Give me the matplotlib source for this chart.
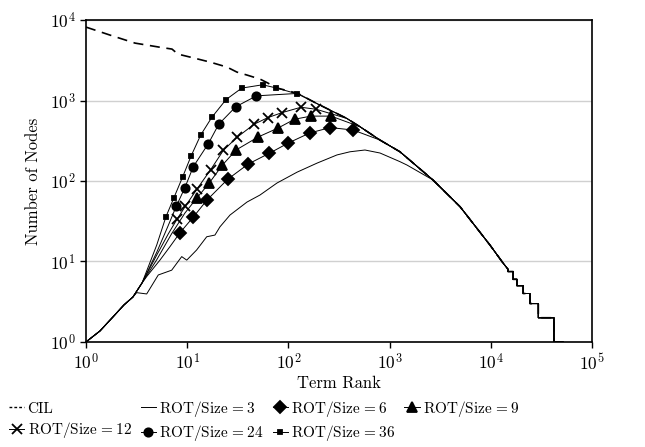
import numpy as np
import matplotlib
matplotlib.use("Agg")
import matplotlib.pyplot as plt

plt.rcParams['font.family'] = 'serif'
plt.rcParams['font.serif'] = ['cmr10']
plt.rcParams['mathtext.fontset'] = 'cm'
plt.rcParams['axes.formatter.use_mathtext'] = True
plt.rcParams['font.size'] = 10

# shared start (all ROT curves) and shared tail (everything merges here)
start_rank = [1, 1.375, 1.85, 2.37, 2.91]
start_nodes = [1, 1.37, 2.05, 2.88, 3.62]

env_rank = [124, 190, 377, 510, 804, 1267, 2685, 4970, 9820, 13200, 14800, 14800,
            16600, 16600, 18100, 18100, 20900, 20900, 24400, 24400, 29500, 29500,
            42100, 42100, 51700]
env_nodes = [1228, 922, 601, 473, 323, 231, 103, 48, 16, 9.6, 8, 7.5,
             7.5, 6, 6, 5, 5, 4, 4, 3, 3, 2,
             2, 1, 1]

# CIL (dashed)
cil_rank = [1, 1.73, 3.05, 5.27, 7.08, 8.1, 10.7, 16.8, 24.7, 31.0, 39.0, 52.4, 62.8, 74.6]
cil_nodes = [8190, 6510, 5180, 4620, 4365, 3780, 3470, 3010, 2610, 2260, 2075, 1850, 1650, 1450]

# ROT/Size=3 (no markers)
r3_rank = [3.17, 3.98, 5.18, 7.03, 8.83, 9.9, 12.4, 15.6, 18.8, 21.1, 26.5, 39.0, 52.4,
           77.1, 122, 192, 302, 406, 571, 804, 1267, 1486]
r3_nodes = [4.1, 3.95, 6.8, 7.8, 11.5, 10.4, 13.9, 20.3, 21.3, 27, 37.8, 54.8, 67,
            94.4, 129, 167, 211, 231, 243, 223, 174, 158]

# ROT/Size=6 (diamonds)
r6_pre_rank = [3.58, 3.98, 5.38, 6.76]
r6_pre_nodes = [5.41, 6.5, 10.4, 15.3]
r6_rank = [8.49, 11.5, 15.7, 25.1, 40.2, 64.7, 100, 162, 259, 438]
r6_nodes = [22.8, 35.7, 58.1, 105, 163, 221, 297, 395, 462, 430]
r6_join = 650

# ROT/Size=9 (triangles)
r9_pre_rank = [3.58, 5.0, 7.0, 9.5]
r9_pre_nodes = [5.41, 10.5, 22, 40]
r9_rank = [12.4, 16.6, 22.3, 30.4, 50.1, 78.9, 115, 167, 264]
r9_nodes = [61, 95.2, 158, 243, 352, 455, 586, 641, 641]
r9_join = 510

# ROT/Size=12 (crosses)
r12_pre_rank = [3.58, 5.0, 6.5]
r12_pre_nodes = [5.41, 12, 22]
r12_rank = [7.93, 9.62, 12.6, 17.1, 22.8, 31.1, 46.2, 62.9, 87.1, 133, 188]
r12_nodes = [33.5, 48.9, 80.7, 139, 241, 350, 511, 615, 710, 826, 780]
r12_join = 377

# ROT/Size=24 (circles)
r24_pre_rank = [3.58, 5.0, 6.5]
r24_pre_nodes = [5.41, 13, 28]
r24_rank = [7.8, 9.5, 11.5, 16.2, 20.5, 30.2, 48.4]
r24_nodes = [48.5, 83, 151, 292, 508, 838, 1145]
r24_join = 124

# ROT/Size=36 (squares)
r36_pre_rank = [3.58, 5.0]
r36_pre_nodes = [5.41, 16]
r36_rank = [6.17, 7.41, 9.03, 10.9, 13.6, 17.5, 24.2, 34.6, 55.6, 74.6, 123]
r36_nodes = [36.0, 62.4, 113, 203, 373, 618, 1028, 1429, 1571, 1442, 1211]
r36_join = 190


def tail_from(r):
    idx = [i for i, v in enumerate(env_rank) if v >= r]
    return [env_rank[i] for i in idx], [env_nodes[i] for i in idx]


fig = plt.figure(figsize=(6.45, 4.47), dpi=100)
ax = fig.add_axes([0.1333, 0.235, 0.7845, 0.72])

lw = 0.7
tr, tn = tail_from(124)
ax.plot(cil_rank + tr, cil_nodes + tn, color='black', lw=1.2,
        linestyle=(0, (6, 4)), label=r'CIL')

tr, tn = tail_from(2685)
ax.plot(start_rank + r3_rank + tr, start_nodes + r3_nodes + tn, color='black', lw=lw,
        label=r'ROT/Size$\,=3$')

series = [
    (r6_pre_rank, r6_pre_nodes, r6_rank, r6_nodes, r6_join, 'D', 6, r'ROT/Size$\,=6$'),
    (r9_pre_rank, r9_pre_nodes, r9_rank, r9_nodes, r9_join, '^', 7, r'ROT/Size$\,=9$'),
    (r12_pre_rank, r12_pre_nodes, r12_rank, r12_nodes, r12_join, 'x', 7, r'ROT/Size$\,=12$'),
    (r24_pre_rank, r24_pre_nodes, r24_rank, r24_nodes, r24_join, 'o', 6, r'ROT/Size$\,=24$'),
    (r36_pre_rank, r36_pre_nodes, r36_rank, r36_nodes, r36_join, 's', 3.5, r'ROT/Size$\,=36$'),
]
handles = {}
for pre_r, pre_n, mr, mn, join, mk, ms, lab in series:
    tr, tn = tail_from(join)
    ax.plot(start_rank + pre_r + mr + tr, start_nodes + pre_n + mn + tn,
            color='black', lw=lw)
    ax.plot(mr, mn, linestyle='none', marker=mk, ms=ms, color='black', mew=1.3)
    handles[lab] = plt.Line2D([], [], color='black', lw=lw, marker=mk, ms=ms, mew=1.3)

ax.set_xscale('log')
ax.set_yscale('log')
ax.set_xlim(1, 1e5)
ax.set_ylim(1, 1e4)
ax.minorticks_off()
ax.set_xticks([1, 10, 100, 1e3, 1e4, 1e5])
ax.set_yticks([1, 10, 100, 1e3, 1e4])
ax.yaxis.grid(True, color='#d0d0d0', lw=1)
ax.set_axisbelow(True)
ax.tick_params(direction='out', length=4, width=1, labelsize=12.5)
for s in ax.spines.values():
    s.set_linewidth(1.2)
ax.set_xlabel('Term Rank', fontsize=12, labelpad=2)
ax.set_ylabel('Number of Nodes', fontsize=12, labelpad=6)

h_cil = plt.Line2D([], [], color='black', lw=1.0, linestyle=(0, (2, 1.5)))
h3 = plt.Line2D([], [], color='black', lw=lw)
order = [(h_cil, 'CIL'), (handles[r'ROT/Size$\,=12$'], r'ROT/Size$\,=12$'),
         (h3, r'ROT/Size$\,=3$'), (handles[r'ROT/Size$\,=24$'], r'ROT/Size$\,=24$'),
         (handles[r'ROT/Size$\,=6$'], r'ROT/Size$\,=6$'), (handles[r'ROT/Size$\,=36$'], r'ROT/Size$\,=36$'),
         (handles[r'ROT/Size$\,=9$'], r'ROT/Size$\,=9$')]
fig.legend([h for h, _ in order], [l for _, l in order], ncol=4, loc='lower left',
           bbox_to_anchor=(0.0, -0.012), frameon=False, handlelength=1.0,
           handletextpad=0.2, columnspacing=0.6, labelspacing=0.3, fontsize=11,
           borderaxespad=0.2)

fig.savefig('out.png', dpi=100)
